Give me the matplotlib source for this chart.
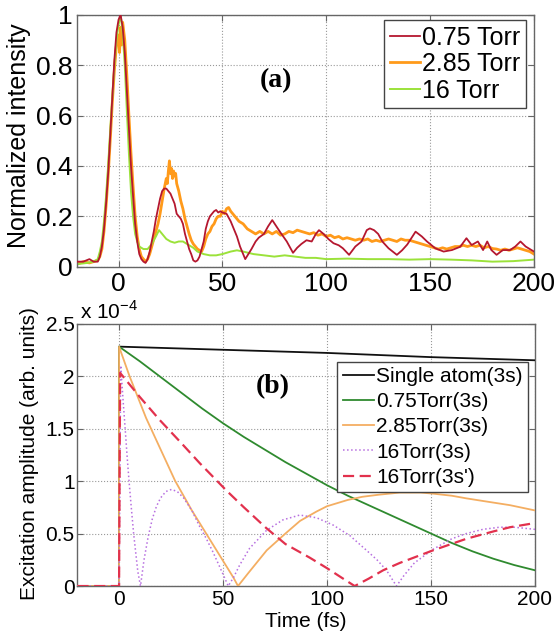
import matplotlib
matplotlib.use("Agg")
import matplotlib.pyplot as plt

plt.rcParams['font.family'] = ['Liberation Sans', 'DejaVu Sans']
plt.rcParams['mathtext.fontset'] = 'custom'
plt.rcParams['mathtext.rm'] = 'Liberation Sans'

# ---------------- Panel (a): measured normalized intensity ----------------
t_075 = [-20, -17, -14, -12, -10, -9, -8, -7, -6, -5, -4, -3, -2, -1, 0, 1, 2, 3, 4, 5, 6, 7, 8, 9,
         10, 11, 12, 13, 14, 15, 16, 17, 18, 19, 20, 21, 22, 23, 24, 25, 26, 27, 28, 29, 30, 31, 32,
         33, 34, 35, 36, 37, 38, 39, 40, 41, 42, 43, 44, 45, 46, 47, 48, 49, 50, 52, 54, 55, 57, 58.5,
         60, 61, 62.5, 64, 66, 67.5, 70, 72, 74, 76, 78, 81, 84, 86, 88, 90.5, 93, 95, 96.5, 99, 101,
         103.5, 106, 108, 111, 114, 117, 119.5, 121, 123, 125, 127, 130, 134, 136.5, 139, 143, 146,
         148.5, 152.5, 156.5, 160.5, 164.5, 167.5, 170, 173, 175.5, 177.5, 179.5, 182, 185, 188.5,
         191, 193.5, 196, 200]
i_075 = [0.02, 0.02, 0.03, 0.02, 0.02, 0.04, 0.08, 0.15, 0.25, 0.37, 0.52, 0.67, 0.82, 0.93, 0.98,
         1.0, 0.95, 0.85, 0.7, 0.55, 0.4, 0.28, 0.17, 0.1, 0.05, 0.03, 0.02, 0.015, 0.03, 0.06, 0.1,
         0.14, 0.19, 0.23, 0.27, 0.3, 0.31, 0.31, 0.3, 0.29, 0.27, 0.25, 0.21, 0.2, 0.19, 0.17, 0.13,
         0.1, 0.07, 0.05, 0.025, 0.02, 0.025, 0.04, 0.07, 0.1, 0.15, 0.18, 0.2, 0.21, 0.22, 0.225,
         0.215, 0.22, 0.215, 0.21, 0.18, 0.16, 0.12, 0.08, 0.05, 0.03, 0.05, 0.07, 0.1, 0.115, 0.13,
         0.16, 0.185, 0.16, 0.135, 0.1, 0.055, 0.075, 0.09, 0.105, 0.1, 0.13, 0.145, 0.128, 0.11,
         0.093, 0.085, 0.073, 0.047, 0.08, 0.1, 0.145, 0.152, 0.145, 0.13, 0.1, 0.073, 0.047, 0.065,
         0.088, 0.139, 0.12, 0.1, 0.073, 0.06, 0.066, 0.079, 0.113, 0.086, 0.1, 0.066, 0.1, 0.066,
         0.047, 0.066, 0.066, 0.08, 0.1, 0.08, 0.06]

t_285 = [-20, -17, -14, -12, -10, -9, -8, -7, -6, -5, -4, -3, -2, -1, 0, 0.5, 1, 1.5, 2, 3, 4, 5, 6,
         7, 8, 9, 10, 11, 12, 13, 14, 15, 16, 17, 18, 19, 20, 21, 22, 23, 23.5, 24, 24.5, 25, 25.5, 26,
         26.5, 27, 27.5, 28, 29, 30, 31, 32, 33, 34, 35, 36, 37, 38, 39, 40, 41, 42, 43, 44, 45, 46,
         47, 48, 49, 50, 51, 52, 53, 54, 55, 56, 57, 58, 60, 62, 64, 66, 68, 70, 72, 74, 76, 78, 80,
         82, 84, 86, 88, 90, 92, 94, 96, 98, 100, 102, 104, 106, 108, 110, 112, 114, 116, 118, 120,
         122, 124, 126, 128, 130, 132, 134, 136, 138, 140, 142, 144, 146, 148, 150, 152, 154, 156,
         158, 160, 162, 164, 166, 168, 170, 172, 174, 176, 178, 180, 182, 184, 186, 188, 190, 192,
         194, 196, 198, 200]
i_285 = [0.01, 0.02, 0.015, 0.02, 0.025, 0.04, 0.07, 0.14, 0.24, 0.36, 0.5, 0.65, 0.78, 0.88, 0.92,
         0.85, 0.95, 0.88, 0.97, 0.9, 0.76, 0.6, 0.45, 0.32, 0.2, 0.12, 0.07, 0.04, 0.03, 0.02, 0.03,
         0.05, 0.08, 0.11, 0.14, 0.17, 0.21, 0.26, 0.31, 0.35, 0.33, 0.38, 0.42, 0.37, 0.39, 0.35,
         0.38, 0.36, 0.37, 0.33, 0.3, 0.26, 0.23, 0.19, 0.16, 0.13, 0.105, 0.09, 0.08, 0.07, 0.065,
         0.06, 0.08, 0.11, 0.13, 0.14, 0.16, 0.17, 0.19, 0.2, 0.2, 0.22, 0.21, 0.23, 0.235, 0.22, 0.21,
         0.2, 0.19, 0.18, 0.17, 0.15, 0.14, 0.13, 0.14, 0.13, 0.14, 0.13, 0.14, 0.125, 0.13, 0.14,
         0.135, 0.145, 0.14, 0.135, 0.13, 0.135, 0.125, 0.13, 0.12, 0.125, 0.115, 0.12, 0.11, 0.115,
         0.11, 0.105, 0.11, 0.105, 0.11, 0.1, 0.105, 0.1, 0.105, 0.11, 0.105, 0.1, 0.11, 0.105,
         0.105, 0.1, 0.095, 0.09, 0.085, 0.08, 0.075, 0.07, 0.075, 0.07, 0.075, 0.08, 0.08, 0.085,
         0.08, 0.085, 0.08, 0.085, 0.075, 0.08, 0.072, 0.07, 0.065, 0.07, 0.065, 0.07, 0.075, 0.07,
         0.065, 0.06, 0.05]

t_16 = [-20, -15, -12, -10, -9, -8, -7, -6, -5, -4, -3, -2, -1, 0, 1, 2, 3, 4, 5, 6, 7, 8, 9, 10,
        12, 14, 16, 18, 19.5, 21, 23, 25, 27, 29, 31, 33, 36, 38, 41, 44, 47, 50, 54, 57, 60, 65, 70,
        75, 80, 85, 90, 95, 100, 110, 120, 130, 140, 150, 160, 170, 180, 190, 200]
i_16 = [0.01, 0.015, 0.02, 0.03, 0.06, 0.1, 0.18, 0.28, 0.4, 0.54, 0.67, 0.8, 0.9, 0.96, 1.0, 0.93,
        0.8, 0.62, 0.45, 0.3, 0.2, 0.13, 0.1, 0.08, 0.07, 0.07, 0.09, 0.12, 0.145, 0.13, 0.11, 0.1,
        0.095, 0.1, 0.1, 0.09, 0.075, 0.06, 0.05, 0.045, 0.045, 0.05, 0.06, 0.065, 0.06, 0.05, 0.045,
        0.04, 0.045, 0.04, 0.035, 0.035, 0.03, 0.032, 0.03, 0.03, 0.028, 0.03, 0.028, 0.025, 0.02,
        0.022, 0.028]

# ---------------- Panel (b): calculated excitation amplitude (x 1e-4) ----------------
t_single = [-20, 0, 0, 50, 100, 150, 200]
a_single = [0, 0, 2.28, 2.25, 2.22, 2.18, 2.15]

t_g075 = [-20, 0, 0, 10, 20, 30, 40, 50, 60, 70, 80, 90, 100, 110, 120, 130, 140, 150, 160, 170,
          180, 190, 200]
a_g075 = [0, 0, 2.28, 2.14, 1.99, 1.84, 1.69, 1.55, 1.42, 1.3, 1.18, 1.07, 0.96, 0.86, 0.77, 0.68,
          0.59, 0.5, 0.41, 0.33, 0.26, 0.2, 0.15]

t_g285 = [-20, 0, 0, 5, 10, 13, 20, 27, 35, 40, 45, 50, 55, 57.2, 62, 71, 80, 87, 95, 100, 110,
          117, 125, 135, 145, 151, 160, 167, 175, 188, 200]
a_g285 = [0, 0, 2.28, 2.0, 1.75, 1.6, 1.3, 1.0, 0.72, 0.56, 0.4, 0.24, 0.08, 0.0, 0.12, 0.34, 0.5,
          0.62, 0.71, 0.76, 0.82, 0.85, 0.87, 0.89, 0.89, 0.88, 0.86, 0.835, 0.81, 0.77, 0.72]

t_g16 = [-20, 0, 0.8, 2, 3, 4, 5, 6, 7, 8, 9, 10.3, 12, 14, 16, 18, 20, 22.5, 25.2, 28, 31, 35,
         38.8, 42, 45, 48, 50.5, 52.5, 55, 58, 62.8, 70.9, 78.8, 86.9, 95, 103, 111, 119, 124, 128.6,
         133.4, 137, 142, 151, 160, 167, 175, 183, 190, 200]
a_g16 = [0, 0, 2.1, 1.75, 1.48, 1.2, 0.95, 0.72, 0.5, 0.32, 0.14, 0.0, 0.25, 0.47, 0.64, 0.76, 0.84,
         0.9, 0.92, 0.9, 0.84, 0.72, 0.565, 0.45, 0.33, 0.2, 0.09, 0.0, 0.08, 0.2, 0.36, 0.53, 0.63,
         0.676, 0.65, 0.58, 0.48, 0.34, 0.25, 0.15, 0.0, 0.1, 0.22, 0.35, 0.45, 0.5, 0.54, 0.56, 0.56,
         0.54]

t_g16p = [-20, 0, 0.5, 10, 19.6, 30, 38.8, 51.6, 60, 70.9, 80, 91.7, 100, 107, 113.3, 120, 127, 135,
          151, 167, 180, 188, 200]
a_g16p = [0, 0, 2.03, 1.8, 1.58, 1.36, 1.17, 0.91, 0.75, 0.55, 0.4, 0.27, 0.17, 0.08, 0.0, 0.07,
          0.15, 0.22, 0.34, 0.45, 0.52, 0.56, 0.6]

labels_a = ['0.75 Torr', '2.85 Torr', '16 Torr']
labels_b = ['Single atom(3s)', '0.75Torr(3s)', '2.85Torr(3s)', '16Torr(3s)', "16Torr(3s')"]
xticks = [0, 50, 100, 150, 200]
yticks_a = [0, 0.2, 0.4, 0.6, 0.8, 1]
yticklabels_a = ['0', '0.2', '0.4', '0.6', '0.8', '1']
yticks_b = [0, 0.5, 1, 1.5, 2, 2.5]
yticklabels_b = ['0', '0.5', '1', '1.5', '2', '2.5']

fig = plt.figure(figsize=(5.55, 6.33), dpi=100)
ax1 = fig.add_axes([0.1387, 0.5787, 0.8234, 0.398])
ax2 = fig.add_axes([0.1396, 0.0742, 0.8243, 0.4147])

spine_col = '#666666'
for ax in (ax1, ax2):
    for s in ax.spines.values():
        s.set_color(spine_col)
        s.set_linewidth(1.0)
    ax.tick_params(direction='in', length=4, color=spine_col, top=True, right=True)
    ax.grid(True, linestyle=':', color='#999999', linewidth=0.8)
    ax.set_axisbelow(True)
    ax.set_xlim(-20, 200)
    ax.set_xticks(xticks)

# Panel (a)
ax1.plot(t_075, i_075, color='#B5172F', lw=1.3, label=labels_a[0], zorder=3)
ax1.plot(t_285, i_285, color='#FF9A1A', lw=2.0, label=labels_a[1], zorder=2)
ax1.plot(t_16, i_16, color='#9BE23A', lw=1.4, label=labels_a[2], zorder=2.5)
ax1.set_ylim(0, 1)
ax1.set_yticks(yticks_a)
ax1.set_yticklabels(yticklabels_a)
ax1.tick_params(labelsize=19, pad=4)
ax1.tick_params(axis='y', pad=3)
ax1.set_ylabel('Normalized intensity', fontsize=18)
ax1.yaxis.set_label_coords(-0.1, 0.52)
leg1 = ax1.legend(loc='upper right', bbox_to_anchor=(0.9825, 0.979), borderaxespad=0,
                  fontsize=18, handlelength=1.2, handletextpad=0.1, labelspacing=0.1,
                  borderpad=0.22, fancybox=False, framealpha=1, edgecolor='#444444')
leg1.get_frame().set_linewidth(1.0)
ax1.text(75.8, 0.74, '(a)', fontsize=20, fontweight='bold', family='Liberation Serif',
         ha='center', va='center')

# Panel (b)
ax2.plot(t_single, a_single, color='#111111', lw=1.3, label=labels_b[0], zorder=3)
ax2.plot(t_g075, a_g075, color='#2F8A2F', lw=1.3, label=labels_b[1], zorder=3)
ax2.plot(t_g285, a_g285, color='#F4AE62', lw=1.3, label=labels_b[2], zorder=3)
ax2.plot(t_g16, a_g16, color='#B76FE0', lw=1.1, ls=':', label=labels_b[3], zorder=3)
ax2.plot(t_g16p, a_g16p, color='#E2314D', lw=1.6, ls=(0, (5, 2.5)), label=labels_b[4], zorder=4)
ax2.set_ylim(0, 2.5)
ax2.set_yticks(yticks_b)
ax2.set_yticklabels(yticklabels_b)
ax2.tick_params(labelsize=15, pad=3)
ax2.tick_params(axis='y', pad=2)
ax2.set_ylabel('Excitation amplitude (arb. units)', fontsize=15)
ax2.yaxis.set_label_coords(-0.084, 0.503)
ax2.set_xlabel('Time (fs)', fontsize=15)
ax2.xaxis.set_label_coords(0.5, -0.098)
ax2.text(0.006, 1.003, r'x 10$^{-4}$', transform=ax2.transAxes, fontsize=15,
         ha='left', va='bottom')
leg2 = ax2.legend(loc='upper right', bbox_to_anchor=(0.984, 0.855), borderaxespad=0,
                  fontsize=15, handlelength=1.5, handletextpad=0.1, labelspacing=0.3,
                  borderpad=0.25, fancybox=False, framealpha=1, edgecolor='#444444')
leg2.get_frame().set_linewidth(1.0)
ax2.text(73.7, 1.9, '(b)', fontsize=20, fontweight='bold', family='Liberation Serif',
         ha='center', va='center')

fig.savefig('out.png', dpi=100)
